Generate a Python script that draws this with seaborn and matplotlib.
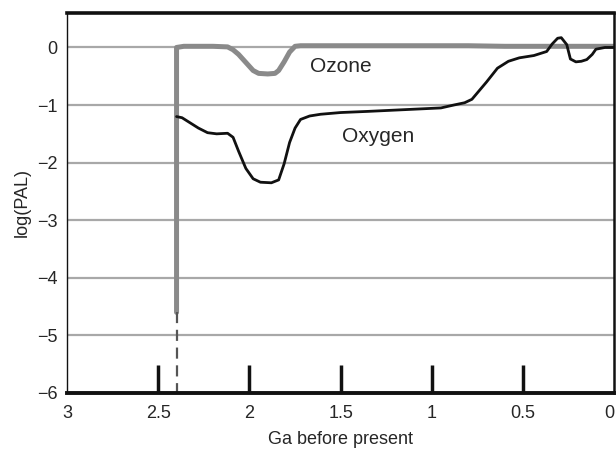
import matplotlib
matplotlib.use("Agg")
import matplotlib.pyplot as plt
import seaborn as sns

# values (age in Ga before present, log(PAL))
ozone_age = [2.40, 2.40, 2.36, 2.30, 2.20, 2.12, 2.09, 2.06, 2.02, 1.98, 1.95,
             1.90, 1.86, 1.84, 1.81, 1.78, 1.75, 1.72, 1.60, 1.40, 1.20, 1.00,
             0.80, 0.60, 0.40, 0.20, 0.00]
ozone_log = [-4.60, 0.00, 0.02, 0.02, 0.02, 0.01, -0.04, -0.12, -0.26, -0.40, -0.45,
             -0.46, -0.45, -0.40, -0.25, -0.08, 0.02, 0.03, 0.03, 0.03, 0.03, 0.03,
             0.03, 0.02, 0.02, 0.02, 0.02]

ozone_dash_age = [2.40, 2.40]
ozone_dash_log = [-4.60, -6.00]

oxygen_age = [2.40, 2.37, 2.33, 2.28, 2.23, 2.18, 2.12, 2.09, 2.06, 2.02, 1.98,
              1.94, 1.88, 1.84, 1.81, 1.78, 1.75, 1.72, 1.67, 1.61, 1.50, 1.35,
              1.15, 0.95, 0.88, 0.82, 0.78, 0.74, 0.70, 0.64, 0.58, 0.52, 0.44,
              0.37, 0.34, 0.31, 0.29, 0.26, 0.24, 0.21, 0.18, 0.15, 0.12, 0.10,
              0.05, 0.00]
oxygen_log = [-1.20, -1.22, -1.30, -1.40, -1.48, -1.50, -1.49, -1.56, -1.80, -2.10, -2.28,
              -2.34, -2.35, -2.30, -2.02, -1.65, -1.40, -1.25, -1.19, -1.16, -1.13, -1.11,
              -1.08, -1.05, -1.00, -0.96, -0.90, -0.75, -0.60, -0.36, -0.24, -0.18, -0.14,
              -0.07, 0.06, 0.16, 0.17, 0.05, -0.20, -0.25, -0.24, -0.21, -0.12, -0.03,
              0.00, 0.00]

x_ticks = [3, 2.5, 2, 1.5, 1, 0.5, 0]
x_tick_labels = ["3", "2.5", "2", "1.5", "1", "0.5", "0"]
y_ticks = [0, -1, -2, -3, -4, -5, -6]
y_tick_labels = ["0", "\u22121", "\u22122", "\u22123", "\u22124", "\u22125", "\u22126"]

sns.set_style("white")
plt.rcParams['font.family'] = ['Liberation Sans', 'DejaVu Sans']

fig = plt.figure(figsize=(6.16, 4.53), dpi=100)
ax = fig.add_axes([0.109, 0.1325, 0.888, 0.839])

for y in y_ticks[:-1]:
    ax.axhline(y, color="#a8a8a8", lw=1.6, zorder=1)

sns.lineplot(x=ozone_age, y=ozone_log, sort=False, estimator=None,
             color="#8a8a8a", lw=3.6, ax=ax, zorder=2)
sns.lineplot(x=ozone_dash_age, y=ozone_dash_log, sort=False, estimator=None,
             color="#555555", lw=1.6, ax=ax, zorder=2, linestyle=(0, (5, 3)))
sns.lineplot(x=oxygen_age, y=oxygen_log, sort=False, estimator=None,
             color="#111111", lw=2.0, ax=ax, zorder=3)

ax.text(1.67, -0.33, "Ozone", fontsize=15, ha="left", va="center")
ax.text(1.49, -1.55, "Oxygen", fontsize=15, ha="left", va="center")

ax.set_xlim(3, 0)
ax.set_ylim(-6, 0.6)
ax.set_xticks(x_ticks)
ax.set_xticklabels(x_tick_labels)
ax.set_yticks(y_ticks)
ax.set_yticklabels(y_tick_labels)
ax.tick_params(axis="x", direction="in", length=20, width=2.5, color="#111111",
               labelsize=13, pad=9, bottom=True)
ax.tick_params(axis="y", length=0, labelsize=13, pad=7)

# no tick marks at the two ends (they sit on the spines)
xt = ax.xaxis.get_major_ticks()
xt[0].tick1line.set_visible(False)
xt[-1].tick1line.set_visible(False)
xt[-1].label1.set_horizontalalignment("right")

ax.set_xlabel("Ga before present", fontsize=13, labelpad=6)
ax.set_ylabel("log(PAL)", fontsize=13, labelpad=4)

for side, lw in [("top", 2.6), ("bottom", 2.8), ("left", 1.0), ("right", 1.8)]:
    ax.spines[side].set_visible(True)
    ax.spines[side].set_color("#111111")
    ax.spines[side].set_linewidth(lw)

plt.savefig("out.png", dpi=100)
